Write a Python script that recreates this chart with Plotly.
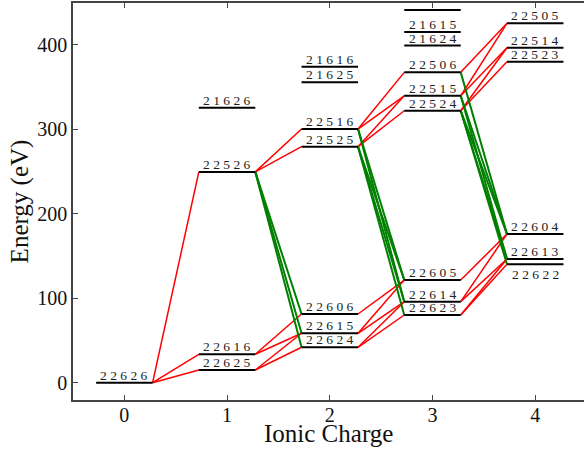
import plotly.graph_objects as go

# Configuration levels: ionic charge, energy (eV), occupation label
level_charge = [0,
                1, 1, 1, 1,
                2, 2, 2, 2, 2, 2, 2,
                3, 3, 3, 3, 3, 3, 3, 3, 3,
                4, 4, 4, 4, 4, 4]
level_energy = [0,
                249.5, 325.4, 33.6, 15.0,
                374.0, 355.5, 300.2, 279.3, 81.3, 58.5, 41.9,
                441.0, 415.0, 399.0, 367.3, 339.6, 321.9, 121.5, 95.9, 80.1,
                425.3, 396.4, 379.9, 176.0, 146.4, 140.1]
level_label = ["22626",
               "22526", "21626", "22616", "22625",
               "21616", "21625", "22516", "22525", "22606", "22615", "22624",
               "", "21615", "21624", "22506", "22515", "22524", "22605", "22614", "22623",
               "22505", "22514", "22523", "22604", "22613", "22622"]
# labels drawn beneath their level instead of above
labels_below = ["22622"]

# Single ionisation steps (red)
ionisation = [("22626", "22526"), ("22626", "22616"), ("22626", "22625"),
              ("22616", "22606"), ("22616", "22615"), ("22625", "22615"), ("22625", "22624"),
              ("22526", "22516"), ("22526", "22525"),
              ("22516", "22506"), ("22516", "22515"), ("22525", "22515"), ("22525", "22524"),
              ("22606", "22605"), ("22615", "22605"), ("22615", "22614"),
              ("22624", "22614"), ("22624", "22623"),
              ("22506", "22505"), ("22515", "22505"), ("22515", "22514"),
              ("22524", "22514"), ("22524", "22523"),
              ("22605", "22604"), ("22614", "22604"), ("22614", "22613"),
              ("22623", "22613"), ("22623", "22622")]

# Auger decays of the 2p vacancy (green)
auger = [("22526", "22606"), ("22526", "22615"), ("22526", "22624"),
         ("22516", "22605"), ("22516", "22614"),
         ("22525", "22605"), ("22525", "22614"), ("22525", "22623"),
         ("22506", "22604"),
         ("22515", "22604"), ("22515", "22613"),
         ("22524", "22604"), ("22524", "22613"), ("22524", "22622")]

HALF = 0.275  # half width of a level bar
SERIF = "Liberation Serif"

lookup = {lab: (q, e) for q, e, lab in zip(level_charge, level_energy, level_label) if lab}


def segments(pairs):
    xs, ys = [], []
    for a, b in pairs:
        qa, ea = lookup[a]
        qb, eb = lookup[b]
        xs += [qa + HALF, qb - HALF, None]
        ys += [ea, eb, None]
    return xs, ys


fig = go.Figure()

rx, ry = segments(ionisation)
fig.add_trace(go.Scatter(x=rx, y=ry, mode="lines",
                         line=dict(color="#ff0000", width=1.5),
                         hoverinfo="skip", showlegend=False))
gx, gy = segments(auger)
fig.add_trace(go.Scatter(x=gx, y=gy, mode="lines",
                         line=dict(color="#008000", width=2),
                         hoverinfo="skip", showlegend=False))

lx, ly = [], []
for q, e in zip(level_charge, level_energy):
    lx += [q - HALF, q + HALF, None]
    ly += [e, e, None]
fig.add_trace(go.Scatter(x=lx, y=ly, mode="lines",
                         line=dict(color="#000000", width=2),
                         hoverinfo="skip", showlegend=False))

for q, e, lab in zip(level_charge, level_energy, level_label):
    if not lab:
        continue
    below = lab in labels_below
    fig.add_annotation(x=q, y=e, text=" ".join(lab), showarrow=False,
                       xanchor="center", yanchor="top" if below else "bottom",
                       yshift=-1 if below else -2,
                       font=dict(family=SERIF, size=13.5, color="#222222"))

# x-axis title, set just under the tick labels
fig.add_annotation(text="Ionic Charge", xref="paper", yref="paper", x=0.5, y=0,
                   xanchor="center", yanchor="top", yshift=-18, showarrow=False,
                   font=dict(family=SERIF, size=25, color="#111111"))

fig.update_layout(
    width=584, height=453,
    margin=dict(l=73, r=0, t=3, b=53),
    plot_bgcolor="white", paper_bgcolor="white",
    showlegend=False,
    font=dict(family=SERIF, color="#111111"),
    xaxis=dict(range=[-0.5, 4.475], tickvals=[0, 1, 2, 3, 4],
               ticks="inside", ticklen=5, tickwidth=1, tickcolor="#444444",
               ticklabelstandoff=-4,
               showline=True, linecolor="#444444", linewidth=1.5, mirror="ticks",
               showgrid=False, zeroline=False,
               tickfont=dict(family=SERIF, size=20, color="#111111")),
    yaxis=dict(range=[-20.5, 449.4], tickvals=[0, 100, 200, 300, 400],
               ticks="inside", ticklen=5, tickwidth=1, tickcolor="#444444",
               showline=True, linecolor="#444444", linewidth=1.5,
               showgrid=False, zeroline=False,
               tickfont=dict(family=SERIF, size=20, color="#111111"),
               title=dict(text="Energy (eV)", standoff=2,
                          font=dict(family=SERIF, size=25, color="#111111"))),
    yaxis2=dict(overlaying="y", side="right", matches="y", range=[-20.5, 449.4],
                tickvals=[0, 100, 200, 300, 400], ticks="inside", ticklen=5,
                tickwidth=1, tickcolor="#444444", showticklabels=False,
                showline=False, showgrid=False, zeroline=False),
)

fig.write_html("out.html")
